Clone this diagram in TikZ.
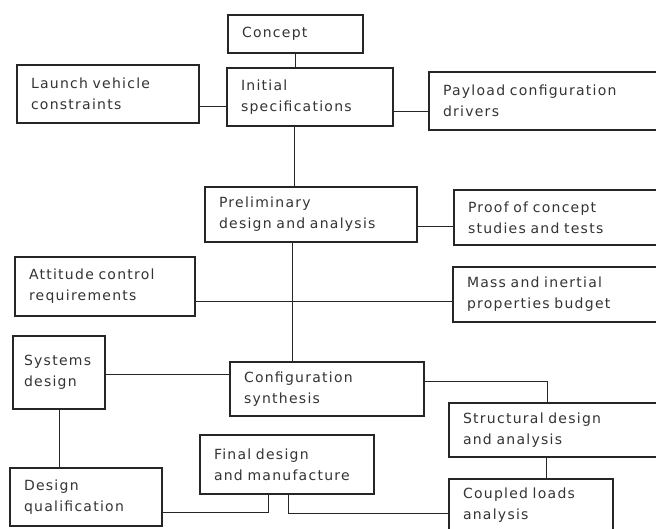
\documentclass[tikz,border=0pt]{standalone}
\usepackage{fontspec}
\newfontfamily\sketchfont{DejaVu Sans}[LetterSpace=9]
\usetikzlibrary{calc}
\tikzset{
    stagebox/.style={draw=black!85, line width=1.1pt, align=left,
        font=\sketchfont\fontsize{14}{21}\selectfont, text=black!80,
        inner xsep=14pt, inner ysep=0pt},
    link/.style={draw=black!85, line width=1pt}
}

\begin{document}
\begin{tikzpicture}[x=1pt, y=-1pt]
\clip (0,0) rectangle (656,529);
\node[stagebox, text width=107pt, minimum height=38pt] (concept) at (295.5,34) {Concept};
\node[stagebox, text width=154pt, minimum height=58pt] (launch) at (108,94) {Launch vehicle\\constraints};
\node[stagebox, text width=138pt, minimum height=58pt] (init) at (310,97) {Initial\\specifications};
\node[stagebox, text width=223pt, minimum height=58pt] (payload) at (554.5,101) {Payload configuration\\drivers};
\node[stagebox, text width=184pt, minimum height=55pt] (prelim) at (311,214.5) {Preliminary\\design and analysis};
\node[stagebox, text width=198pt, minimum height=55pt] (proof) at (567,217.5) {Proof of concept\\studies and tests};
\node[stagebox, text width=152pt, minimum height=59pt] (attitude) at (105,286.5) {Attitude control\\requirements};
\node[stagebox, text width=199pt, minimum height=55pt] (mass) at (566.5,294.5) {Mass and inertial\\properties budget};
\node[stagebox, text width=70pt, inner xsep=11pt, minimum height=73pt] (systems) at (59,372.5) {Systems\\design};
\node[stagebox, text width=166pt, minimum height=54pt] (config) at (327,389) {Configuration\\synthesis};
\node[stagebox, text width=203pt, minimum height=54pt] (struct) at (564.5,430) {Structural design\\and analysis};
\node[stagebox, text width=146pt, minimum height=59pt] (final) at (287,464.5) {Final design\\and manufacture};
\node[stagebox, text width=124pt, minimum height=58pt] (qual) at (86,497) {Design\\qualification};
\node[stagebox, text width=136pt, minimum height=53pt] (coupled) at (531,505.5) {Coupled loads\\analysis};

\draw[link] (concept.south) -- (concept.south |- init.north);
\draw[link] ([yshift=-13pt]launch.east) -- ([yshift=-13pt]launch.east -| init.west);
\draw[link] ([yshift=-15pt]init.east) -- ([yshift=-15pt]init.east -| payload.west);
\draw[link] ([xshift=-16pt]init.south) -- ([xshift=-16pt]init.south |- prelim.north);
\draw[link] ([yshift=-12.5pt]prelim.east) -- ([yshift=-12.5pt]prelim.east -| proof.west);
\draw[link] ([xshift=-19pt]prelim.south) -- ([xshift=-19pt]prelim.south |- config.north);
\draw[link] ([yshift=-15.5pt]attitude.east) -- ([yshift=-15.5pt]attitude.east -| mass.west);
\draw[link] ([yshift=-1.5pt]systems.east) -- ([yshift=-1.5pt]systems.east -| config.west);
\draw[link] ([yshift=8pt]config.east) -| ([xshift=-17.5pt]struct.north);
\draw[link] ([xshift=-18.5pt]struct.south) -- ([xshift=-18.5pt]struct.south |- coupled.north);
\draw[link] (systems.south) -- (systems.south |- qual.north);
\draw[link] ([xshift=-19pt]final.south) |- ([yshift=-15pt]qual.east);
\draw[link] ([xshift=1pt]final.south) |- ([yshift=-7.5pt]coupled.west);
\end{tikzpicture}
\end{document}
